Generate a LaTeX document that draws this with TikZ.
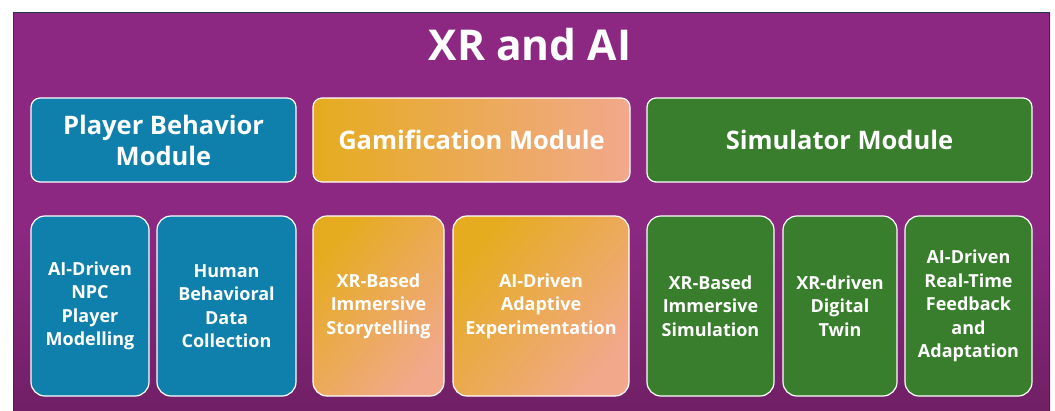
\documentclass[tikz,border=0pt]{standalone}
\usepackage{fontspec}
\setmainfont{Open Sans}
\definecolor{bgtop}{HTML}{8C2882}
\definecolor{bgbot}{HTML}{6C1E62}
\definecolor{frame}{HTML}{1C3A48}
\definecolor{blueedge}{HTML}{0F80AC}
\definecolor{bluemid}{HTML}{1390C1}
\definecolor{orA}{HTML}{E5AC1F}
\definecolor{orB}{HTML}{F2A88B}
\definecolor{grnedge}{HTML}{387E2C}
\definecolor{grnmid}{HTML}{479A30}
\tikzset{
  box/.style={draw=white, line width=1.2pt, text=white, align=center, inner sep=0pt, font=\bfseries},
  modbox/.style={box, rounded corners=9pt, minimum height=84pt, font=\bfseries\fontsize{25.5}{31}\selectfont},
  subbox/.style={box, rounded corners=14pt, minimum height=180pt, font=\bfseries\fontsize{18}{23.5}\selectfont},
  blueshade/.style={left color=blueedge, middle color=bluemid, right color=blueedge},
  orshade/.style={top color=orA, bottom color=orB, shading angle=50},
  orshadeh/.style={left color=orA, right color=orB},
  grnshade/.style={left color=grnedge, middle color=grnmid, right color=grnedge},
}
\begin{document}
\begin{tikzpicture}[x=1pt,y=-1pt]
\useasboundingbox (0,0) rectangle (1055,410);
\shade[top color=bgtop, bottom color=bgbot, middle color=bgtop] (13,12) rectangle (1050,440);
\draw[frame, line width=1pt] (13.5,440) -- (13.5,12.5) -- (1049.5,12.5) -- (1049.5,440);
\node[text=white, font=\bfseries\fontsize{42.5}{48}\selectfont] (title) at (530,45) {XR and AI};
% modules
\node[modbox, blueshade, minimum width=265pt] (pb) at (163.5,140) {Player Behavior\\Module};
\node[modbox, orshadeh, minimum width=317pt] (gm) at (471.5,140) {Gamification Module};
\node[modbox, grnshade, minimum width=385pt] (sm) at (839.5,140) {Simulator Module};
% sub boxes
\node[subbox, blueshade, minimum width=118pt] (npc) at (90,306) {AI-Driven\\NPC\\Player\\Modelling};
\node[subbox, blueshade, minimum width=139pt] (hb) at (226.5,306) {Human\\Behavioral\\Data\\Collection};
\node[subbox, orshade, minimum width=131pt] (st) at (378.5,306) {XR-Based\\Immersive\\Storytelling};
\node[subbox, orshade, minimum width=176pt] (ae) at (541,306) {AI-Driven\\Adaptive\\Experimentation};
\node[subbox, grnshade, minimum width=127pt] (is) at (710.5,306) {XR-Based\\Immersive\\Simulation};
\node[subbox, grnshade, minimum width=114pt] (dt) at (840,306) {XR-driven\\Digital\\Twin};
\node[subbox, grnshade, minimum width=127pt] (rt) at (968.5,306) {AI-Driven\\Real-Time\\Feedback\\and\\Adaptation};
\end{tikzpicture}
\end{document}
